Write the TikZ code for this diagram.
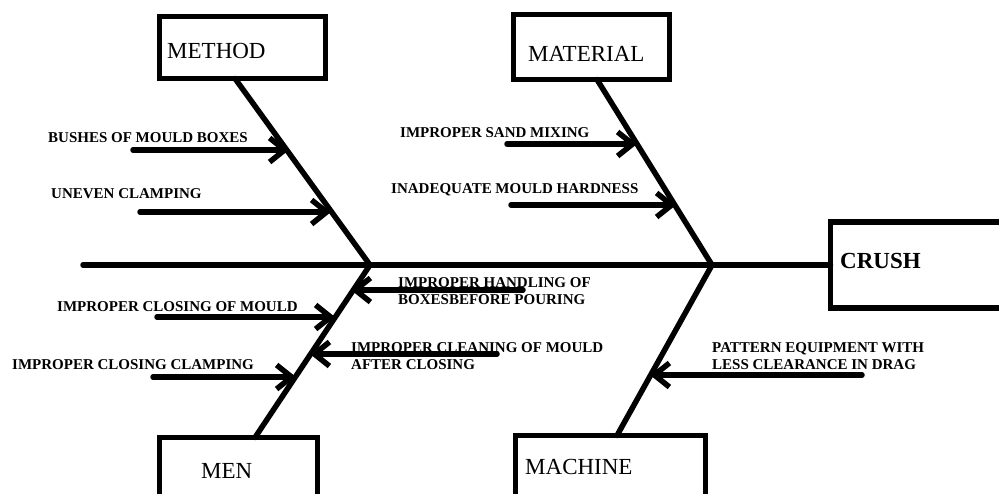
\documentclass[tikz,border=0pt]{standalone}
\usepackage{fontspec}
\setmainfont{Liberation Serif}
\usetikzlibrary{arrows.meta}

\tikzset{
  catbox/.style={draw,line width=5.5pt,inner sep=0pt,outer sep=0pt,anchor=north west},
  bone/.style={line width=5.5pt,line cap=round},
  cause/.style={line width=5.5pt,line cap=round,->},
  lbl/.style={inner sep=0pt,anchor=base west,align=left,font=\bfseries\fontsize{15}{16.5}\selectfont},
  cat/.style={inner sep=0pt,anchor=base west,font=\fontsize{23}{26}\selectfont},
}

\begin{document}
\begin{tikzpicture}[x=1pt,y=-1pt,>={Straight Barb[length=15pt,width=24pt]}]
  \useasboundingbox (0,0) rectangle (999,493);
  % category boxes
  \node[catbox,minimum width=166pt,minimum height=62pt] (method) at (159.5,16.5) {};
  \node[catbox,minimum width=156pt,minimum height=65pt] (material) at (513.5,14.5) {};
  \node[catbox,minimum width=200pt,minimum height=86pt] (crush) at (830.5,222) {};
  \node[catbox,minimum width=158pt,minimum height=90pt] (men) at (159.5,437.5) {};
  \node[catbox,minimum width=190pt,minimum height=90pt] (machine) at (515.5,435.5) {};
  \node[cat] (tmethod) at (167,58) {METHOD};
  \node[cat] (tmaterial) at (528,61) {MATERIAL};
  \node[cat] (tmen) at (201,478) {MEN};
  \node[cat] (tmachine) at (525,474) {MACHINE};
  \node[cat,font=\bfseries\fontsize{23}{26}\selectfont] (tcrush) at (840,268) {CRUSH};
  % spine and bones
  \coordinate (tail) at (83,265);
  \coordinate (j1) at (370,265);
  \coordinate (j2) at (712,265);
  \draw[bone] (tail) -- (crush.west);
  \draw[bone] ([xshift=-7.5pt]method.south) -- (j1) -- ([xshift=16.5pt]men.north);
  \draw[bone] ([xshift=5.5pt]material.south) -- (j2) -- ([xshift=6.5pt]machine.north);
  % causes
  \node[lbl] (c1) at (48,142) {BUSHES OF MOULD BOXES};
  \node[lbl] (c2) at (51,198) {UNEVEN CLAMPING};
  \node[lbl] (c3) at (400,137) {IMPROPER SAND MIXING};
  \node[lbl] (c4) at (391,193) {INADEQUATE MOULD HARDNESS};
  \node[lbl] (c5) at (398,304) {IMPROPER HANDLING OF\\BOXESBEFORE POURING};
  \node[lbl] (c6) at (57,311) {IMPROPER CLOSING OF MOULD};
  \node[lbl] (c7) at (351,369) {IMPROPER CLEANING OF MOULD\\AFTER CLOSING};
  \node[lbl] (c8) at (12,369) {IMPROPER CLOSING CLAMPING};
  \node[lbl] (c9) at (712,369) {PATTERN EQUIPMENT WITH\\LESS CLEARANCE IN DRAG};
  \coordinate (s1) at (133,150);  \coordinate (e1) at (289,150);
  \coordinate (s2) at (140,212);  \coordinate (e2) at (331,212);
  \coordinate (s3) at (507,144);  \coordinate (e3) at (637,144);
  \coordinate (s4) at (511,205);  \coordinate (e4) at (676,205);
  \coordinate (s5) at (523,290);  \coordinate (e5) at (351,290);
  \coordinate (s6) at (157,317);  \coordinate (e6) at (335,317);
  \coordinate (s7) at (497,354);  \coordinate (e7) at (310,354);
  \coordinate (s8) at (153,377);  \coordinate (e8) at (296,377);
  \coordinate (s9) at (862,375);  \coordinate (e9) at (650,375);
  \foreach \i in {1,...,9}
    \draw[cause] (s\i) -- (e\i);
\end{tikzpicture}
\end{document}
